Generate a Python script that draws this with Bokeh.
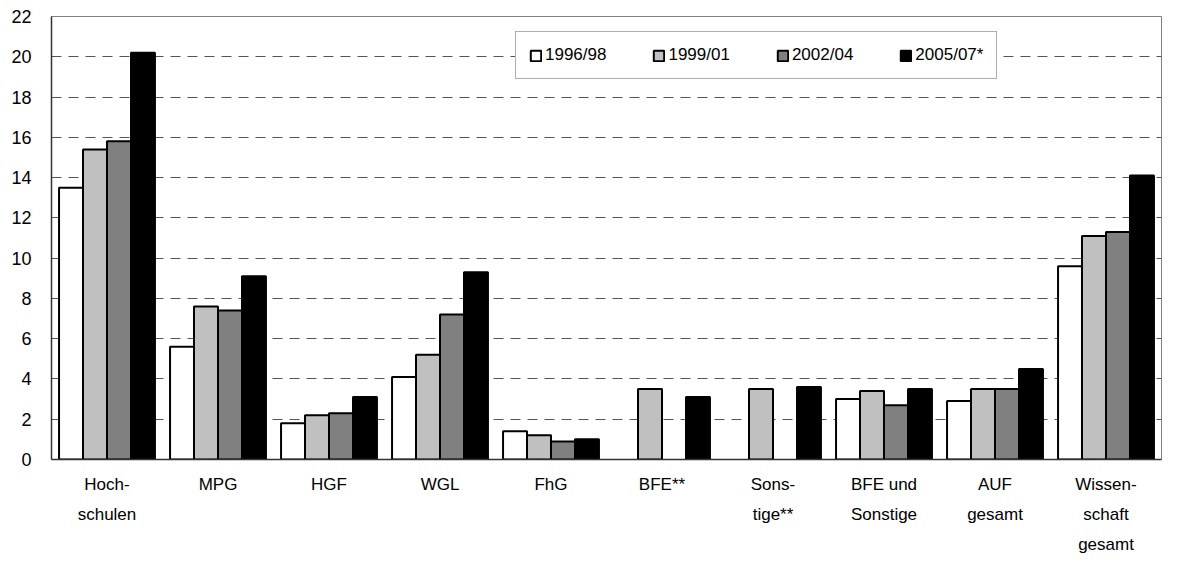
from bokeh.plotting import figure
from bokeh.models import ColumnDataSource, FactorRange, Range1d, FixedTicker, Legend, LegendItem
from bokeh.transform import dodge
from bokeh.embed import file_html
from bokeh.resources import INLINE

nan = float("nan")
categories = ["Hoch-\nschulen", "MPG", "HGF", "WGL", "FhG", "BFE**", "Sons-\ntige**",
              "BFE und\nSonstige", "AUF\ngesamt", "Wissen-\nschaft\ngesamt"]
series_names = ["1996/98", "1999/01", "2002/04", "2005/07*"]
v1996 = [13.5, 5.6, 1.8, 4.1, 1.4, nan, nan, 3.0, 2.9, 9.6]
v1999 = [15.4, 7.6, 2.2, 5.2, 1.2, 3.5, 3.5, 3.4, 3.5, 11.1]
v2002 = [15.8, 7.4, 2.3, 7.2, 0.9, nan, nan, 2.7, 3.5, 11.3]
v2005 = [20.2, 9.1, 3.1, 9.3, 1.0, 3.1, 3.6, 3.5, 4.5, 14.1]
y_ticks = list(range(0, 23, 2))

colors = ["#FFFFFF", "#C0C0C0", "#808080", "#000000"]
offsets = [-0.324, -0.108, 0.108, 0.324]
keys = ["a", "b", "c", "d"]

src = ColumnDataSource(dict(cat=categories, a=v1996, b=v1999, c=v2002, d=v2005))

FONT = "Liberation Sans"

p = figure(x_range=FactorRange(*categories, range_padding=0), y_range=Range1d(0, 22),
           width=1163, height=557, output_backend="svg", toolbar_location=None,
           min_border_left=51, min_border_right=2, min_border_top=16, min_border_bottom=10)

renderers = []
for k, off, col in zip(keys, offsets, colors):
    r = p.vbar(x=dodge("cat", off, range=p.x_range), top=k, width=0.216, source=src,
               fill_color=col, line_color="black", line_width=2)
    renderers.append(r)

p.outline_line_color = "#808080"
p.outline_line_width = 1

p.xgrid.grid_line_color = None
p.ygrid.ticker = FixedTicker(ticks=y_ticks)
p.ygrid.grid_line_color = "#555555"
p.ygrid.grid_line_dash = "10 7"
p.ygrid.grid_line_width = 1

p.yaxis.ticker = FixedTicker(ticks=y_ticks)
p.yaxis.major_tick_line_color = None
p.yaxis.minor_tick_line_color = None
p.yaxis.major_tick_out = 0
p.yaxis.major_tick_in = 0
p.yaxis.major_label_standoff = 20
p.yaxis.major_label_text_font = FONT
p.yaxis.major_label_text_font_size = "18px"
p.yaxis.major_label_text_color = "black"
p.yaxis.axis_line_color = "#333333"
p.yaxis.axis_line_width = 1.5

p.xaxis.major_tick_line_color = None
p.xaxis.minor_tick_line_color = None
p.xaxis.major_tick_out = 0
p.xaxis.major_tick_in = 0
p.xaxis.major_label_standoff = 15
p.xaxis.major_label_text_font = FONT
p.xaxis.major_label_text_font_size = "17px"
p.xaxis.major_label_text_color = "black"
p.xaxis.major_label_text_line_height = 1.6
p.xaxis.axis_line_color = "#333333"
p.xaxis.axis_line_width = 1.5

legend = Legend(items=[LegendItem(label=n, renderers=[r]) for n, r in zip(series_names, renderers)],
                orientation="horizontal", location=(464, 380),
                glyph_width=13, glyph_height=13, label_standoff=3, spacing=46,
                padding=13, margin=0, label_height=14,
                label_text_font=FONT, label_text_font_size="17px", label_text_color="black",
                border_line_color="#606060", border_line_width=1,
                background_fill_color="white", background_fill_alpha=1.0)
p.add_layout(legend)

open("out.html", "w").write(file_html(p, INLINE))
